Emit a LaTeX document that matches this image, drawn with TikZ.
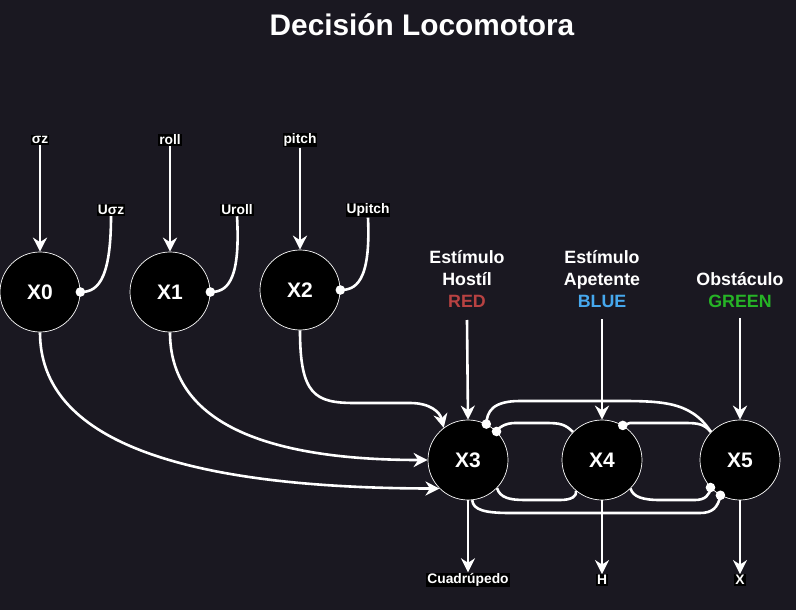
\documentclass[tikz,border=0pt]{standalone}
\usepackage{fontspec}
\setmainfont{Liberation Sans}
\usetikzlibrary{arrows.meta}
\definecolor{bg}{RGB}{26,24,33}
\definecolor{hred}{RGB}{184,66,66}
\definecolor{hblue}{RGB}{70,168,238}
\definecolor{hgreen}{RGB}{38,180,38}
\begin{document}
\begin{tikzpicture}[x=1pt,y=-1pt,
  state/.style={circle, draw=white, line width=0.7pt, fill=black, minimum size=80pt, inner sep=0pt, text=white, font=\bfseries\fontsize{21}{24}\selectfont},
  lbl/.style={fill=black, text=white, inner sep=1pt, font=\bfseries\fontsize{13.8}{16}\selectfont},
  stim/.style={text=white, align=center, font=\bfseries\fontsize{17.8}{22}\selectfont},
  wire/.style={draw=white, line width=2.6pt},
  arr/.style={wire, -{Stealth[length=14pt,width=14pt,inset=4.5pt]}},
  dotend/.style={fill=white}
]
\fill[bg] (0,0) rectangle (796,610);
\useasboundingbox (0,0) rectangle (796,610);

\node[text=white, font=\bfseries\fontsize{29.8}{34}\selectfont] (title) at (422,25) {Decisión Locomotora};

% state nodes
\node[state] (X0) at (40,292) {X0};
\node[state] (X1) at (170,292) {X1};
\node[state] (X2) at (300,290) {X2};
\node[state] (X3) at (468,460) {X3};
\node[state] (X4) at (602,460) {X4};
\node[state] (X5) at (740,460) {X5};

% input labels
\node[lbl] (sz) at (40,140) {σz};
\node[lbl] (roll) at (170,140) {roll};
\node[lbl] (pitch) at (300,140) {pitch};
\node[lbl] (Usz) at (111,210) {Uσz};
\node[lbl] (Uroll) at (237,210) {Uroll};
\node[lbl] (Upitch) at (368,210) {Upitch};

% stimulus labels
\node[stim] (sH) at (467,279) {Estímulo\\Hostíl\\\textcolor{hred}{RED}};
\node[stim] (sA) at (602,279) {Estímulo\\Apetente\\\textcolor{hblue}{BLUE}};
\node[stim] (sO) at (740,290) {Obstáculo\\\textcolor{hgreen}{GREEN}};
\coordinate (cH) at (467,320);
\coordinate (cA) at (602,319);
\coordinate (cO) at (740,318);

% output labels
\node[lbl] (oC) at (468,580) {Cuadrúpedo};
\node[lbl] (oH) at (602,580) {H};
\node[lbl] (oX) at (740,580) {X};

% top input arrows
\draw[arr] (sz.south) -- (X0.north);
\draw[arr] (roll.south) -- (X1.north);
\draw[arr] (pitch.south) -- (X2.north);

% U connectors with dot ends
\draw[wire] (Usz.south) .. controls (111,285) and (95,292) .. (X0.east);
\fill[dotend] (X0.east) circle (4.8);
\draw[wire] (Uroll.south) .. controls (241,285) and (225,292) .. (X1.east);
\fill[dotend] (X1.east) circle (4.8);
\draw[wire] (Upitch.south) .. controls (371,283) and (355,290) .. (X2.east);
\fill[dotend] (X2.east) circle (4.8);

% stimulus arrows
\draw[arr] (cH) -- (X3.north);
\draw[arr] (cA) -- (X4.north);
\draw[arr] (cO) -- (X5.north);

% outputs
\draw[arr] (X3.south) -- (oC.north);
\draw[arr] (X4.south) -- (oH.north);
\draw[arr] (X5.south) -- (oX.north);

% long curves into X3
\draw[arr] (X0.south) .. controls (40,440) and (180,488) .. (X3.225);
\draw[arr] (X1.south) .. controls (170,420) and (260,460) .. (X3.west);
\draw[arr] (X2.south) .. controls (300,395) and (315,403) .. (355,403) -- (410,403) .. controls (430,403) and (440,412) .. (X3.127);

% interconnections
\draw[wire] (X5.136) .. controls (690,400) and (660,401) .. (610,401) -- (520,401) .. controls (492,401) and (487,412) .. (X3.63);
\fill[dotend] (X3.63) circle (4.8);
\draw[wire] (X4.136) .. controls (565,424) and (560,423) .. (545,423) -- (515,423) .. controls (505,423) and (498,428) .. (X3.45);
\fill[dotend] (X3.45) circle (4.8);
\draw[wire] (X5.136) .. controls (704,424) and (698,423) .. (685,423) -- (630,423) -- (X4.59);
\fill[dotend] (X4.59) circle (4.8);
\draw[wire] (X3.-44) .. controls (500,498) and (510,500) .. (525,500) -- (560,500) .. controls (572,500) and (577,496) .. (X4.230);
\draw[wire] (X4.-45) .. controls (633,497) and (643,500) .. (660,500) -- (695,500) .. controls (705,500) and (710,495) .. (X5.223);
\fill[dotend] (X5.223) circle (4.8);
\draw[wire] (X3.-84) .. controls (473,510) and (485,513) .. (510,513) -- (700,513) .. controls (712,513) and (718,508) .. (X5.241);
\fill[dotend] (X5.241) circle (4.8);
\end{tikzpicture}
\end{document}
